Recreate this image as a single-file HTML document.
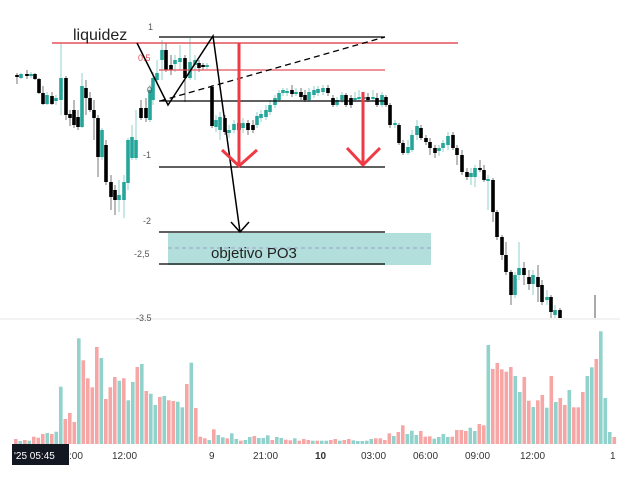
<!DOCTYPE html>
<html><head><meta charset="utf-8"><style>
html,body{margin:0;padding:0;background:#fff;}
svg{display:block;font-family:"Liberation Sans",sans-serif;}
</style></head><body>
<svg id="s" width="640" height="480" viewBox="0 0 640 480" xmlns="http://www.w3.org/2000/svg">
<g id="vol"></g>
<g id="cnd"></g>
<!-- separator -->
<line x1="0" y1="319" x2="620" y2="319" stroke="#e6e6e6" stroke-width="1"/>
<!-- target box -->
<rect x="168" y="233" width="263" height="32" fill="#b2dfdb"/>
<line x1="168" y1="248" x2="431" y2="248" stroke="#9e9ec8" stroke-width="1" stroke-dasharray="4,3"/>
<!-- fib lines -->
<g stroke="#000" stroke-width="1.3">
<line x1="159" y1="37" x2="385" y2="37"/>
<line x1="159" y1="101" x2="385" y2="101"/>
<line x1="159" y1="167" x2="385" y2="167"/>
<line x1="159" y1="232" x2="385" y2="232"/>
<line x1="159" y1="264" x2="385" y2="264"/>
</g>
<line x1="159" y1="70" x2="385" y2="70" stroke="#e5505a" stroke-width="1.3"/>
<line x1="52" y1="43" x2="458" y2="43" stroke="#e5505a" stroke-width="1.5"/>
<line x1="160" y1="101" x2="385" y2="37" stroke="#000" stroke-width="1.3" stroke-dasharray="6,4"/>
<!-- zigzag -->
<polyline points="137,43 168,105 213,36 240,232" fill="none" stroke="#000" stroke-width="1.5"/>
<polyline points="231,222 240,232 249,222" fill="none" stroke="#000" stroke-width="1.5"/>
<!-- red arrows -->
<g stroke="#ee3a45" stroke-width="3" fill="none">
<line x1="239" y1="43" x2="239" y2="166"/>
<polyline points="222,150 239,166 257,150"/>
<line x1="363" y1="92" x2="363" y2="165"/>
<polyline points="347,148 363,165 380,148"/>
</g>
<!-- labels -->
<g font-size="9" fill="#555">
<text x="148" y="30">1</text>
<text x="138" y="61" fill="#e5505a">0.5</text>
<text x="147" y="93">0</text>
<text x="143" y="158">-1</text>
<text x="143" y="224">-2</text>
<text x="134" y="257">-2,5</text>
<text x="136" y="321">-3.5</text>
</g>
<text x="73" y="40" font-size="16" fill="#222">liquidez</text>
<text x="211" y="258" font-size="15" fill="#222">objetivo PO3</text>
<!-- time axis -->
<g font-size="10" fill="#333">
<text x="112" y="459">12:00</text>
<text x="209" y="459">9</text>
<text x="253" y="459">21:00</text>
<text x="315" y="459" font-weight="bold">10</text>
<text x="361" y="459">03:00</text>
<text x="413" y="459">06:00</text>
<text x="465" y="459">09:00</text>
<text x="520" y="459">12:00</text>
<text x="610" y="459">1</text>
<text x="69" y="459">:00</text>
</g>
<rect x="12" y="444" width="57" height="21" fill="#131722"/>
<text x="14" y="459" font-size="10" fill="#fff">'25  05:45</text>
</svg>
<script>
var V=[[357,'r'],[363,'g'],[360,'r'],[362,'g'],[350,'r'],[353,'r'],[342,'r'],[339,'g'],[342,'r'],[335,'g'],[200,'g'],[297,'r'],[279,'r'],[306,'r'],[55,'g'],[121,'r'],[175,'r'],[202,'r'],[81,'r'],[114,'g'],[237,'r'],[202,'r'],[171,'r'],[182,'g'],[175,'r'],[241,'g'],[186,'g'],[141,'r'],[132,'g'],[213,'r'],[221,'g'],[255,'g'],[231,'r'],[228,'g'],[241,'r'],[243,'r'],[245,'g'],[262,'g'],[192,'r'],[128,'g'],[264,'r'],[350,'r'],[355,'r'],[360,'g'],[328,'r'],[345,'g'],[352,'g'],[355,'r'],[340,'g'],[357,'g'],[362,'r'],[360,'g'],[351,'g'],[348,'r'],[354,'g'],[354,'g'],[346,'g'],[360,'r'],[351,'g'],[354,'g'],[359,'r'],[361,'r'],[355,'g'],[362,'r'],[357,'r'],[360,'r'],[362,'g'],[362,'r'],[362,'g'],[362,'g'],[360,'r'],[357,'r'],[362,'g'],[360,'r'],[357,'r'],[361,'g'],[363,'g'],[363,'g'],[362,'g'],[357,'g'],[355,'r'],[355,'r'],[360,'r'],[340,'r'],[348,'g'],[336,'r'],[316,'r'],[342,'g'],[332,'g'],[345,'g'],[333,'r'],[350,'r'],[349,'r'],[356,'g'],[351,'g'],[342,'g'],[351,'g'],[350,'r'],[330,'r'],[330,'r'],[333,'r'],[323,'g'],[333,'g'],[312,'r'],[316,'r'],[75,'g'],[147,'r'],[129,'r'],[148,'r'],[155,'r'],[141,'r'],[168,'g'],[216,'g'],[171,'r'],[242,'r'],[261,'g'],[241,'r'],[225,'r'],[263,'g'],[168,'r'],[246,'g'],[234,'r'],[255,'r'],[210,'g'],[262,'r'],[262,'r'],[216,'r'],[168,'g'],[142,'g'],[117,'r'],[34,'g'],[234,'g'],[336,'g'],[351,'r']];
var h='';
for(var i=0;i<V.length;i++){var x=14+i*4.5,t=320+V[i][0]/3;h+='<rect x="'+x.toFixed(1)+'" y="'+t.toFixed(1)+'" width="3.6" height="'+(444-t).toFixed(1)+'" fill="'+(V[i][1]=='g'?'#92d2cc':'#f5a6a5')+'"/>';}
document.getElementById('vol').innerHTML=h;
// candles: x, top, bottom, wickTop, wickBot, color
var C=[[17,75,77,73,84,'k'],[21,74,78,73,79,'g'],[27,74,76,70,79,'k'],[31,74,76,72,78,'g'],[35,74,79,73,80,'k'],[39,79,93,78,94,'k'],[43,93,104,86,105,'k'],[47,95,104,92,105,'g'],[52,96,104,92,105,'k'],[56,98,101,95,105,'g'],[61,78,100,43,115,'g'],[66,78,115,76,120,'k'],[70,114,118,110,126,'k'],[74,110,125,100,128,'k'],[78,117,127,110,130,'k'],[82,86,127,73,128,'g'],[86,88,98,80,115,'k'],[90,98,110,92,112,'k'],[94,110,118,100,140,'k'],[98,118,157,115,177,'k'],[102,130,157,128,160,'g'],[106,145,182,140,185,'k'],[111,182,197,175,210,'k'],[115,190,200,185,215,'k'],[119,195,200,180,212,'g'],[124,182,200,175,218,'g'],[128,140,183,138,190,'g'],[132,137,158,125,160,'g'],[136,140,158,110,160,'g'],[141,108,118,100,120,'k'],[146,108,118,98,122,'k'],[150,90,120,85,122,'g'],[153,78,100,72,105,'g'],[157,73,80,60,85,'g'],[162,50,60,40,80,'g'],[166,50,70,43,72,'k'],[171,65,70,55,75,'k'],[175,60,64,55,72,'g'],[180,58,62,45,70,'g'],[185,58,78,55,102,'k'],[190,62,78,38,80,'g'],[195,60,65,55,80,'g'],[199,63,68,60,72,'k'],[203,65,67,63,70,'k'],[207,65,67,63,69,'g'],[212,87,126,85,128,'k'],[216,120,127,115,132,'g'],[220,117,130,112,140,'g'],[225,118,132,115,135,'k'],[229,130,133,125,138,'g'],[234,124,130,120,133,'g'],[239,123,130,118,135,'k'],[243,123,128,118,133,'g'],[248,123,130,120,135,'k'],[253,125,130,120,133,'k'],[257,116,125,112,128,'g'],[261,114,118,110,122,'g'],[266,110,117,105,120,'g'],[270,105,112,100,115,'g'],[275,98,105,95,108,'g'],[279,93,100,90,102,'g'],[283,90,93,88,96,'g'],[287,91,93,88,96,'g'],[292,90,94,85,97,'k'],[296,92,94,88,96,'g'],[301,92,97,88,100,'k'],[305,95,100,90,102,'k'],[309,92,100,88,102,'g'],[314,90,95,86,98,'g'],[318,89,93,86,96,'g'],[323,88,92,85,95,'g'],[328,88,93,85,96,'k'],[333,98,105,95,107,'k'],[337,100,105,97,107,'g'],[342,95,100,92,103,'g'],[346,95,105,93,107,'k'],[351,98,105,95,108,'k'],[355,98,100,92,102,'g'],[359,97,99,90,101,'g'],[364,97,99,92,101,'g'],[368,97,100,93,102,'k'],[373,97,99,90,101,'g'],[377,98,105,93,107,'k'],[382,95,105,92,107,'g'],[386,97,105,95,107,'k'],[390,105,125,103,128,'k'],[395,123,125,120,128,'g'],[399,125,143,123,145,'k'],[403,143,153,140,155,'k'],[408,147,153,140,155,'g'],[412,135,150,130,152,'g'],[417,126,135,120,140,'g'],[421,128,138,125,140,'k'],[426,138,142,135,145,'k'],[430,142,148,138,155,'k'],[435,148,153,145,158,'k'],[439,148,151,145,156,'g'],[443,143,148,140,152,'g'],[448,136,145,132,150,'g'],[453,135,148,132,150,'k'],[457,148,155,145,165,'k'],[462,155,172,150,175,'k'],[467,172,177,168,180,'k'],[471,173,177,168,185,'g'],[475,168,177,165,187,'g'],[480,168,170,160,172,'k'],[484,170,180,165,182,'k'],[488,179,181,175,210,'g'],[493,180,212,178,222,'k'],[497,212,237,210,240,'k'],[502,237,255,235,260,'k'],[506,255,272,242,275,'k'],[511,272,295,270,305,'k'],[515,275,295,272,298,'g'],[519,268,275,242,280,'g'],[524,268,275,262,285,'k'],[529,277,284,270,290,'k'],[533,275,284,270,295,'g'],[538,277,287,265,302,'k'],[542,285,302,280,305,'k'],[547,297,300,290,305,'g'],[551,297,312,295,318,'k'],[555,310,315,305,318,'g'],[560,310,318,308,318,'k']];
var s='';
for(var j=0;j<C.length;j++){var c=C[j],col=c[5]=='g'?'#26a69a':'#000';var x=c[0];
s+='<line x1="'+x+'" y1="'+c[3]+'" x2="'+x+'" y2="'+c[4]+'" stroke="'+(c[5]=='g'?'#8fd0c8':'#777')+'" stroke-width="1"/>';
s+='<rect x="'+(x-1.8)+'" y="'+c[1]+'" width="3.6" height="'+Math.max(1.5,c[2]-c[1])+'" fill="'+col+'"/>';}
s+='<line x1="595" y1="295" x2="595" y2="318" stroke="#555" stroke-width="1"/>';
document.getElementById('cnd').innerHTML=s;
</script>
</body></html>
